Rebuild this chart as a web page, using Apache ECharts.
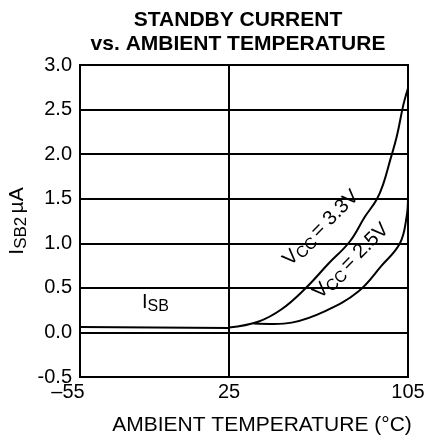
<!DOCTYPE html>
<html>
<head>
<meta charset="utf-8">
<script src="https://cdn.jsdelivr.net/npm/echarts@6/dist/echarts.min.js"></script>
<style>
  html, body { margin: 0; padding: 0; background: #fff; }
  #chart { width: 436px; height: 439px; }
</style>
</head>
<body>
<div id="chart"></div>
<script>
// 温度刻度 (原图横轴 -55~25 与 25~105 两段宽度不同)
var tempTicks = [-55, 25, 105];
var currentTicks = [-0.5, 0, 0.5, 1.0, 1.5, 2.0, 2.5, 3.0];

// 待机电流曲线 (°C, µA)
var isbTemp = [-55, -15, 25];
var isbVal = [0.06, 0.055, 0.05];

var vcc33Temp = [25, 38, 48.5, 59, 69.4, 79, 85.8, 91, 94, 97, 100, 102.9, 105];
var vcc33Val = [0.055, 0.12, 0.26, 0.49, 0.77, 1.02, 1.30, 1.49, 1.67, 1.93, 2.20, 2.55, 2.74];

var vcc25Temp = [36, 45, 53, 68, 82.8, 93.2, 101.4, 104.4, 105];
var vcc25Val = [0.10, 0.095, 0.11, 0.24, 0.46, 0.75, 1.00, 1.30, 1.51];

function pairs(xs, ys) {
    return xs.map(function (x, i) { return [x, ys[i]]; });
}

var font = 'Liberation Sans, Arial, sans-serif';
var chart = echarts.init(document.getElementById('chart'));

var lineStyle = { color: '#000', width: 2 };
var gridBox = { top: 65, bottom: 62, show: true, borderColor: '#000', borderWidth: 2 };

function xAxisOf(idx, min, max, fmt) {
    return {
        type: 'value', gridIndex: idx, min: min, max: max, interval: max - min,
        axisLine: { show: false },
        axisTick: { show: false },
        axisLabel: {
            fontFamily: font, fontSize: 20, color: '#000', margin: 5,
            formatter: fmt,
            rich: { neg: { fontFamily: font, fontSize: 20, color: '#000', padding: [0, 24, 0, 0] } }
        },
        splitLine: { show: false }
    };
}

function yAxisOf(idx, showLabel) {
    return {
        type: 'value', gridIndex: idx,
        min: currentTicks[0],
        max: currentTicks[currentTicks.length - 1],
        interval: 0.5,
        axisLine: { show: false },
        axisTick: { show: false },
        axisLabel: {
            show: showLabel,
            fontFamily: font, fontSize: 20, color: '#000', margin: 8,
            formatter: function (v) { return v.toFixed(1); }
        },
        splitLine: { show: true, lineStyle: lineStyle }
    };
}

var yLeft = yAxisOf(0, true);
yLeft.name = '{i|I}{sub|SB2} {i|µA}';
yLeft.nameLocation = 'middle';
yLeft.nameRotate = 90;
yLeft.nameGap = 50;
yLeft.nameTextStyle = {
    rich: {
        i: { fontFamily: font, fontSize: 21, color: '#000' },
        sub: { fontFamily: font, fontSize: 17, color: '#000', padding: [9, 0, 0, 0] }
    }
};

var labelRich = {
    i: { fontFamily: font, fontSize: 20, fill: '#000' },
    sub: { fontFamily: font, fontSize: 16, fill: '#000', padding: [9, 0, 0, 0] }
};

var option = {
    animation: false,
    textStyle: { fontFamily: font, color: '#000' },
    title: {
        text: 'STANDBY CURRENT\nvs. AMBIENT TEMPERATURE',
        left: 233,
        top: 3,
        textAlign: 'center',
        textStyle: { fontFamily: font, fontSize: 21, fontWeight: 'bold', color: '#000', lineHeight: 24 }
    },
    grid: [
        Object.assign({ left: 80, width: 149 }, gridBox),
        Object.assign({ left: 229, right: 28 }, gridBox)
    ],
    xAxis: [
        xAxisOf(0, tempTicks[0], tempTicks[1], function (v) {
            return v < 0 ? '{neg|\u2013' + Math.abs(v) + '}' : String(v);
        }),
        xAxisOf(1, tempTicks[1], tempTicks[2], function (v) {
            return v === tempTicks[2] ? String(v) : '';
        })
    ],
    yAxis: [yLeft, yAxisOf(1, false)],
    series: [
        {
            name: 'ISB',
            type: 'line',
            xAxisIndex: 0, yAxisIndex: 0,
            data: pairs(isbTemp, isbVal),
            showSymbol: false,
            lineStyle: { color: '#000', width: 2 }
        },
        {
            name: 'VCC = 3.3V',
            type: 'line',
            xAxisIndex: 1, yAxisIndex: 1,
            data: pairs(vcc33Temp, vcc33Val),
            smooth: 0.4,
            showSymbol: false,
            lineStyle: { color: '#000', width: 2 }
        },
        {
            name: 'VCC = 2.5V',
            type: 'line',
            xAxisIndex: 1, yAxisIndex: 1,
            data: pairs(vcc25Temp, vcc25Val),
            smooth: 0.4,
            showSymbol: false,
            lineStyle: { color: '#000', width: 2 }
        }
    ],
    graphic: [
        {
            type: 'text', x: 262, y: 425,
            style: {
                text: 'AMBIENT TEMPERATURE (°C)',
                align: 'center', verticalAlign: 'middle',
                font: '21px ' + font, fill: '#000'
            }
        },
        {
            type: 'text', left: 142, top: 292,
            style: { text: '{i|I}{sub|SB}', rich: labelRich }
        },
        {
            type: 'text', x: 321, y: 228, rotation: Math.PI / 4,
            style: {
                text: '{i|V}{sub|CC} {i|= 3.3V}',
                align: 'center', verticalAlign: 'middle',
                rich: labelRich
            }
        },
        {
            type: 'text', x: 351, y: 261, rotation: Math.PI / 4,
            style: {
                text: '{i|V}{sub|CC} {i|= 2.5V}',
                align: 'center', verticalAlign: 'middle',
                rich: labelRich
            }
        }
    ]
};

chart.setOption(option);
</script>
</body>
</html>
